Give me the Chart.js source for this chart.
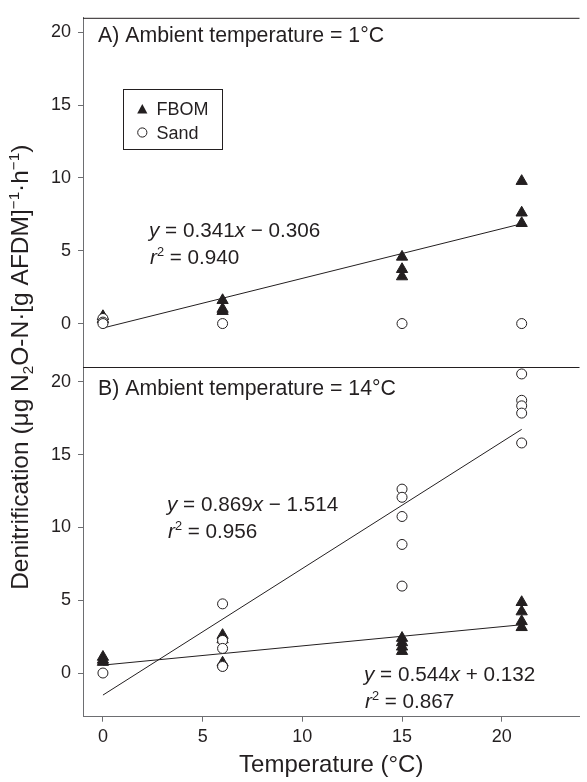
<!DOCTYPE html>
<html>
<head>
<meta charset="utf-8">
<script src="https://cdn.jsdelivr.net/npm/chart.js@4.4.1/dist/chart.umd.min.js"></script>
<style>
  html, body { margin: 0; padding: 0; background: #fff; }
  #wrap { width: 587px; height: 782px; }
</style>
</head>
<body>
<div id="wrap"><canvas id="myChart" width="587" height="782"></canvas></div>
<script>
// incubation temperatures (x) and the measured rates at each of them
const temperatures = [0, 6, 15, 21];
const fbomA = [[0.5, 0.3], [1.6, 1.0, 0.85], [4.58, 3.73, 3.23], [9.78, 7.61, 6.89]];
const sandA = [[0.35, 0.1, 0], [0], [0], [0]];
const fbomB = [[1.1, 0.9, 0.75], [2.6, 2.3, 0.7], [2.4, 2.1, 1.8, 1.5], [4.86, 4.22, 3.55, 3.14]];
const sandB = [[0], [4.75, 2.24, 1.69, 0.49, 0.45], [12.63, 12.07, 10.75, 8.83, 5.97], [20.54, 18.73, 18.35, 17.85, 15.8]];

// regression lines: A FBOM, B sand, B FBOM
const fitSlopes = [0.341, 0.869, 0.132];
const fitIntercepts = [-0.306, -1.514, 0.544];
const fitRange = [0, 21];
const fitLabels = [
  ['0.341', '−', '0.306', '0.940'],
  ['0.869', '−', '1.514', '0.956'],
  ['0.544', '+', '0.132', '0.867']
];

const xTicks = [0, 5, 10, 15, 20];
const yTicks = [0, 5, 10, 15, 20];

const FONT = '"Liberation Sans", Arial, sans-serif';
const INK = '#231f20';
const AXIS = '#6d6e71';

function toPoints(groups) {
  const pts = [];
  groups.forEach((vals, i) => vals.forEach(v => pts.push({x: temperatures[i], y: v})));
  return pts;
}

function fitLine(k) {
  return fitRange.map(x => ({x: x, y: fitSlopes[k] * x + fitIntercepts[k]}));
}

function fbomSet(data, axis) {
  return {type: 'scatter', data: toPoints(data), yAxisID: axis, pointStyle: 'triangle',
    pointRadius: 6.5, pointHoverRadius: 6.5, backgroundColor: INK, borderColor: INK,
    borderWidth: 1, clip: false, order: 2};
}
function sandSet(data, axis) {
  return {type: 'scatter', data: toPoints(data), yAxisID: axis, pointStyle: 'circle',
    pointRadius: 5, pointHoverRadius: 5, backgroundColor: '#fff', borderColor: INK,
    borderWidth: 1, clip: false, order: 1};
}
function lineSet(k, axis) {
  return {type: 'scatter', data: fitLine(k), yAxisID: axis, showLine: true, pointRadius: 0,
    borderColor: INK, borderWidth: 1, order: 3};
}

// mixed normal / italic / super- / subscript text
function drawRich(ctx, segs, x, y, size) {
  let cx = x;
  segs.forEach(s => {
    let sz = size, dy = 0, style = '';
    if (s[1] === 'i') style = 'italic ';
    if (s[1] === 'sup') { sz = size * 0.62; dy = -size * 0.38; }
    if (s[1] === 'sub') { sz = size * 0.62; dy = size * 0.22; }
    ctx.font = style + sz + 'px ' + FONT;
    ctx.fillText(s[0], cx, y + dy);
    cx += ctx.measureText(s[0]).width;
  });
  return cx - x;
}
function richWidth(ctx, segs, size) {
  let w = 0;
  segs.forEach(s => {
    let sz = (s[1] === 'sup' || s[1] === 'sub') ? size * 0.62 : size;
    ctx.font = (s[1] === 'i' ? 'italic ' : '') + sz + 'px ' + FONT;
    w += ctx.measureText(s[0]).width;
  });
  return w;
}

function drawEquation(ctx, k, x, y) {
  const l = fitLabels[k];
  drawRich(ctx, [['y', 'i'], [' = ' + l[0], 'n'], ['x', 'i'], [' ' + l[1] + ' ' + l[2], 'n']], x, y, 20.7);
  drawRich(ctx, [['r', 'i'], ['2', 'sup'], [' = ' + l[3], 'n']], x + 1, y + 26.5, 20.7);
}

const annotations = {
  id: 'annotations',
  afterDraw(chart) {
    const ctx = chart.ctx;
    const area = chart.chartArea;
    const yA = chart.scales.yA;
    ctx.save();
    // frame lines on top and between the panels
    ctx.strokeStyle = INK;
    ctx.lineWidth = 1;
    ctx.beginPath();
    ctx.moveTo(area.left, area.top + 0.5);
    ctx.lineTo(area.right, area.top + 0.5);
    ctx.moveTo(area.left, Math.round(yA.bottom) + 0.5);
    ctx.lineTo(area.right, Math.round(yA.bottom) + 0.5);
    ctx.stroke();

    ctx.fillStyle = INK;
    ctx.textBaseline = 'alphabetic';
    ctx.textAlign = 'left';
    ctx.font = '21.3px ' + FONT;
    ctx.fillText('A) Ambient temperature = 1°C', 98, 42);
    ctx.fillText('B) Ambient temperature = 14°C', 98, 395);

    drawEquation(ctx, 0, 149, 237);
    drawEquation(ctx, 1, 167, 511);
    drawEquation(ctx, 2, 364, 681);

    // legend
    ctx.fillStyle = '#fff';
    ctx.fillRect(123.5, 89.5, 99, 60);
    ctx.strokeStyle = INK;
    ctx.strokeRect(123.5, 89.5, 99, 60);
    ctx.fillStyle = INK;
    ctx.beginPath();
    ctx.moveTo(142.3, 104);
    ctx.lineTo(147.4, 113.5);
    ctx.lineTo(137.2, 113.5);
    ctx.closePath();
    ctx.fill();
    ctx.beginPath();
    ctx.arc(142.3, 132.5, 4.6, 0, Math.PI * 2);
    ctx.stroke();
    ctx.font = '18px ' + FONT;
    ctx.fillText('FBOM', 156.5, 114.5);
    ctx.fillText('Sand', 156.5, 138.5);

    // y axis title
    const segs = [['Denitrification (μg N', 'n'], ['2', 'sub'], ['O-N·[g AFDM]', 'n'], ['−1', 'sup'],
      ['·h', 'n'], ['−1', 'sup'], [')', 'n']];
    const size = 24.5;
    const w = richWidth(ctx, segs, size);
    ctx.translate(19 + size * 0.36, (area.top + area.bottom) / 2);
    ctx.rotate(-Math.PI / 2);
    drawRich(ctx, segs, -w / 2, 0, size);
    ctx.restore();
  }
};

function yScale() {
  return {
    type: 'linear', position: 'left', stack: 'panels', stackWeight: 1,
    min: -3, max: 21,
    afterBuildTicks: s => { s.ticks = yTicks.map(v => ({value: v})); },
    afterFit: s => { s.width = 83; },
    grid: {drawOnChartArea: false, drawTicks: true, tickLength: 5, color: AXIS, tickColor: AXIS},
    border: {display: true, color: AXIS, width: 1},
    ticks: {font: {family: FONT, size: 18}, color: INK, padding: 7}
  };
}

const ctx = document.getElementById('myChart').getContext('2d');
const myChart = new Chart(ctx, {
  type: 'scatter',
  data: {
    datasets: [
      sandSet(sandA, 'yA'), fbomSet(fbomA, 'yA'), lineSet(0, 'yA'),
      sandSet(sandB, 'yB'), fbomSet(fbomB, 'yB'), lineSet(1, 'yB'), lineSet(2, 'yB')
    ]
  },
  options: {
    responsive: false,
    animation: false,
    devicePixelRatio: 1,
    layout: {padding: {top: 8, left: 0, right: 0, bottom: 0}},
    plugins: {legend: {display: false}, tooltip: {enabled: false}},
    scales: {
      x: {
        type: 'linear', min: -1, max: 23.9,
        afterBuildTicks: s => { s.ticks = xTicks.map(v => ({value: v})); },
        afterFit: s => { s.height = 65.3; },
        grid: {drawOnChartArea: false, drawTicks: true, tickLength: 5, color: AXIS, tickColor: AXIS},
        border: {display: true, color: AXIS, width: 1},
        ticks: {font: {family: FONT, size: 18}, color: INK, padding: 5, maxRotation: 0},
        title: {display: true, text: 'Temperature (°C)', color: INK,
          font: {family: FONT, size: 24}, padding: {top: 0, bottom: 2}}
      },
      // the panel listed later in the stack is laid out on top
      yB: yScale(),
      yA: yScale()
    }
  },
  plugins: [annotations]
});
</script>
</body>
</html>
